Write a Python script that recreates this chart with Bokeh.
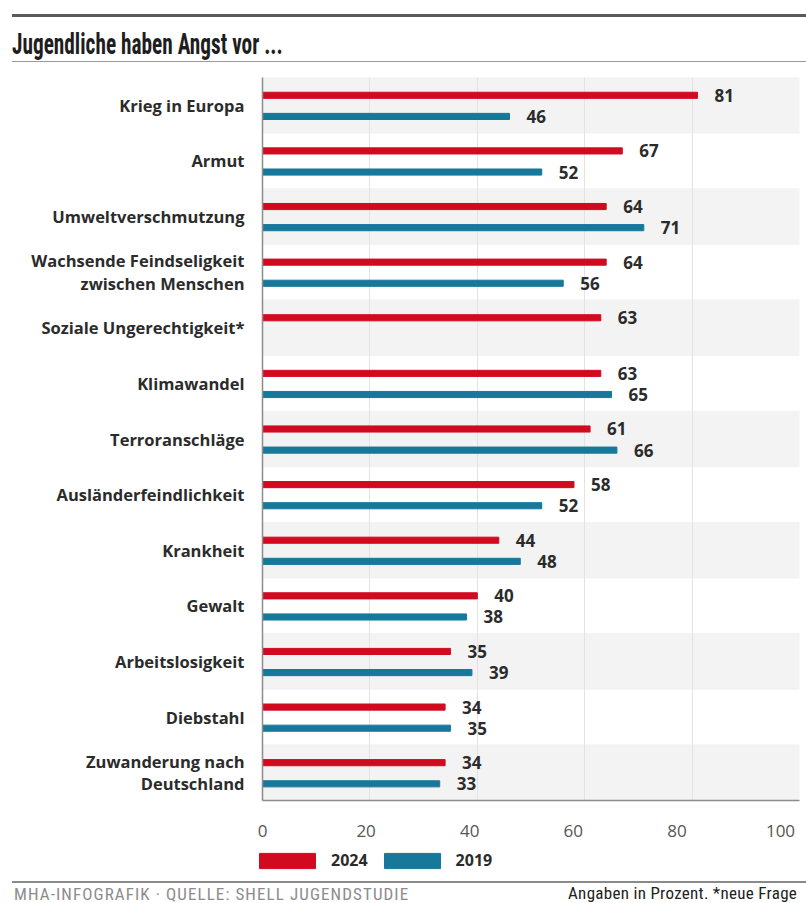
from bokeh.plotting import figure
from bokeh.models import (ColumnDataSource, FactorRange, Range1d, LinearAxis,
                          FixedTicker, Grid, Legend, LegendItem, Div)
from bokeh.transform import dodge
from bokeh.layouts import column
from bokeh.embed import file_html
from bokeh.resources import INLINE
from bokeh.core.properties import value

# ---------------- data ----------------
categories = [
    "Krieg in Europa",
    "Armut",
    "Umweltverschmutzung",
    "Wachsende Feindseligkeit\nzwischen Menschen",
    "Soziale Ungerechtigkeit*",
    "Klimawandel",
    "Terroranschläge",
    "Ausländerfeindlichkeit",
    "Krankheit",
    "Gewalt",
    "Arbeitslosigkeit",
    "Diebstahl",
    "Zuwanderung nach\nDeutschland",
]
values_2024 = [81, 67, 64, 64, 63, 63, 61, 58, 44, 40, 35, 34, 34]
values_2019 = [46, 52, 71, 56, None, 65, 66, 52, 48, 38, 39, 35, 33]
x_ticks = [0, 20, 40, 60, 80, 100]
grid_ticks = [20, 40, 60, 80]
series_labels = ["2024", "2019"]
title_text = "Jugendliche haben Angst vor ..."
source_text = "MHA-INFOGRAFIK · QUELLE: SHELL JUGENDSTUDIE"
note_text = "Angaben in Prozent. *neue Frage"

# ---------------- styles ----------------
RED = "#d20a20"
TEAL = "#17789a"
BAND = "#f3f3f3"
DARK = "#2b2b2b"
FONT = value("Open Sans")
X_MAX = 100

src24 = ColumnDataSource(dict(cat=categories, val=values_2024,
                              txt=[str(v) for v in values_2024]))
c19 = [c for c, v in zip(categories, values_2019) if v is not None]
v19 = [v for v in values_2019 if v is not None]
src19 = ColumnDataSource(dict(cat=c19, val=v19, txt=[str(v) for v in v19]))
band_src = ColumnDataSource(dict(cat=categories[::2],
                                 right=[X_MAX] * len(categories[::2])))

p = figure(width=806, height=779, output_backend="svg", toolbar_location=None,
           y_range=FactorRange(factors=categories[::-1]),
           x_range=Range1d(0, X_MAX), x_axis_location=None,
           min_border_left=262, min_border_right=7, min_border_top=7,
           min_border_bottom=49)
p.frame_align = False
p.outline_line_color = None
p.background_fill_color = "white"
p.border_fill_color = "white"
p.ygrid.grid_line_color = None

# alternating row bands
p.hbar(y="cat", left=0, right="right", height=1, source=band_src,
       color=BAND, level="image")

grid = Grid(dimension=0, ticker=FixedTicker(ticks=grid_ticks),
            grid_line_color="#e3e3e3", grid_line_width=1)
p.add_layout(grid)

BH = 0.11
r24 = p.hbar(y=dodge("cat", 0.18, range=p.y_range), left=0, right="val",
             height=BH, source=src24, color=RED)
r19 = p.hbar(y=dodge("cat", -0.2, range=p.y_range), left=0, right="val",
             height=BH, source=src19, color=TEAL)

for src, off in ((src24, 0.18), (src19, -0.2)):
    p.text(x="val", y=dodge("cat", off, range=p.y_range), text="txt",
           source=src, x_offset=17, text_align="left",
           text_baseline="middle", text_font=FONT, text_font_style="bold",
           text_font_size="17px", text_color=DARK)

# y axis (categories)
ya = p.yaxis[0]
ya.major_tick_line_color = None
ya.major_tick_out = 0
ya.major_tick_in = 0
ya.minor_tick_line_color = None
ya.axis_line_color = "#8c8c8c"
ya.axis_line_width = 1.5
ya.major_label_standoff = 18
ya.major_label_text_font = "Open Sans"
ya.major_label_text_font_style = "bold"
ya.major_label_text_font_size = "16.5px"
ya.major_label_text_color = DARK
ya.major_label_text_line_height = 0.98

# x axis: tick labels sit slightly left of the grid lines in the original
p.extra_x_ranges = {"ticklabels": Range1d(0, 103.67)}
xa = LinearAxis(x_range_name="ticklabels", ticker=FixedTicker(ticks=x_ticks))
xa.major_tick_line_color = None
xa.major_tick_out = 0
xa.major_tick_in = 0
xa.minor_tick_line_color = None
xa.axis_line_color = "#8c8c8c"
xa.axis_line_width = 1.5
xa.major_label_standoff = 24
xa.major_label_text_font = "Open Sans"
xa.major_label_text_font_style = "normal"
xa.major_label_text_font_size = "17px"
xa.major_label_text_color = "#555555"
p.add_layout(xa, "below")

# ---------------- legend strip (separate small figure) ----------------
lg = figure(width=806, height=27, output_backend="svg", toolbar_location=None,
            y_range=FactorRange(factors=categories[::-1]),
            x_range=Range1d(0, X_MAX), x_axis_location=None,
            y_axis_location=None, min_border_left=252, min_border_right=0,
            min_border_top=0, min_border_bottom=0)
lg.frame_align = False
lg.outline_line_color = None
lg.xgrid.grid_line_color = None
lg.ygrid.grid_line_color = None
k24 = lg.hbar(y="cat", left=0, right="val", height=BH, source=src24,
              color=RED, visible=False)
k19 = lg.hbar(y="cat", left=0, right="val", height=BH, source=src19,
              color=TEAL, visible=False)
legend = Legend(items=[LegendItem(label=series_labels[0], renderers=[k24]),
                       LegendItem(label=series_labels[1], renderers=[k19])],
                orientation="horizontal", location="top_left",
                glyph_width=70, glyph_height=19, label_standoff=9, spacing=9,
                padding=0, margin=0, border_line_color=None,
                background_fill_alpha=0, inactive_fill_alpha=0,
                label_text_font="Open Sans",
                label_text_font_style="bold", label_text_font_size="16px",
                label_text_color=DARK)
lg.add_layout(legend)

NARROW = "'Liberation Sans Narrow', 'Roboto Condensed', 'DejaVu Sans Condensed', sans-serif"

header_html = f"""
<div style="position:relative;width:806px;height:70px;overflow:hidden;background:white;">
  <div style="position:absolute;left:12px;top:14px;width:794px;height:3px;background:#5a5a5a;"></div>
  <div style="position:absolute;left:12px;top:29px;white-space:nowrap;font-family:{NARROW};
              font-weight:bold;font-size:30px;line-height:30px;color:#1e1e1e;
              transform:scaleX(0.71);transform-origin:left top;">{title_text}</div>
  <div style="position:absolute;left:12px;top:61px;width:794px;height:1px;background:#9a9a9a;"></div>
</div>
"""
footer_html = f"""
<div style="position:relative;width:806px;height:27px;overflow:hidden;background:white;">
  <div style="position:absolute;left:12px;top:5px;width:794px;height:2px;background:#8a8a8a;"></div>
  <div style="position:absolute;left:14px;top:10px;white-space:nowrap;font-family:{NARROW};
              font-size:17px;line-height:16px;letter-spacing:1.1px;color:#8c8c8c;">{source_text}</div>
  <div style="position:absolute;left:568px;top:9px;white-space:nowrap;font-family:{NARROW};
              font-size:17px;line-height:16px;letter-spacing:0.3px;color:#222;">{note_text}</div>
</div>
"""
header = Div(text=header_html, width=806, height=70, margin=0)
footer = Div(text=footer_html, width=806, height=27, margin=0)

layout = column(header, p, lg, footer, spacing=0)

open("out.html", "w").write(file_html(layout, INLINE))
